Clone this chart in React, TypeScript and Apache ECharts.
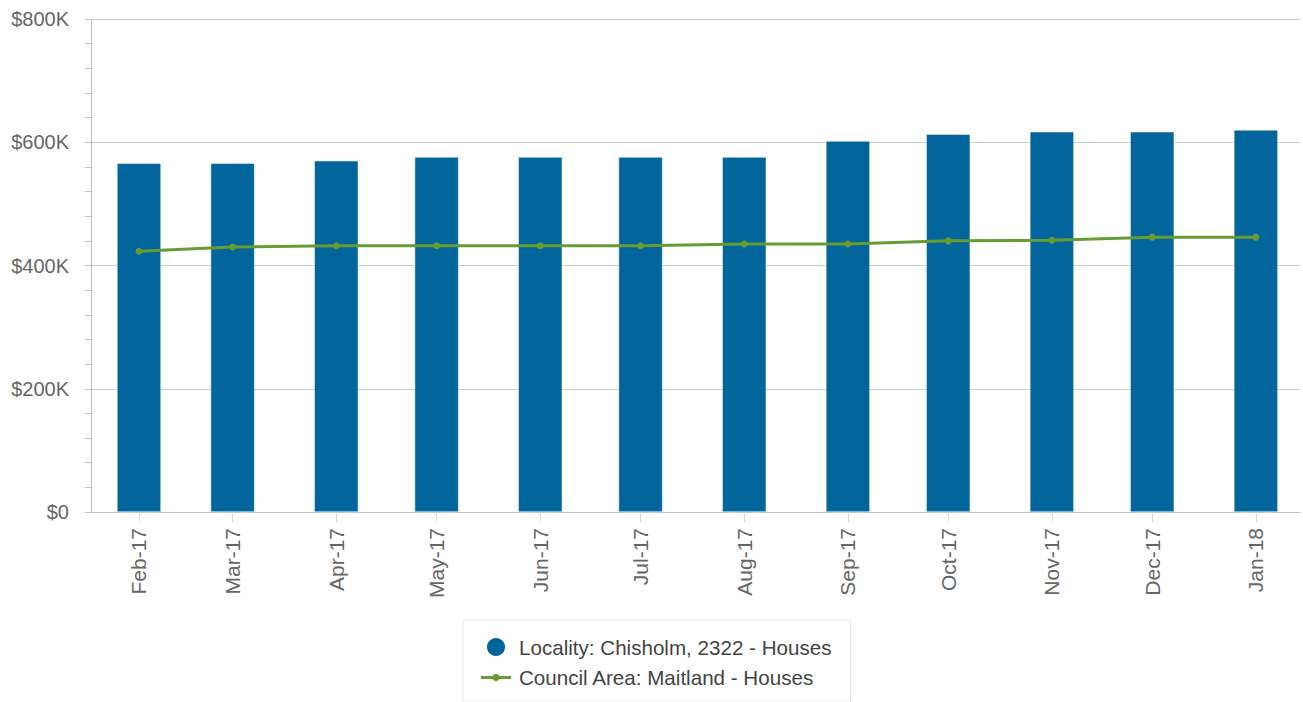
import React, { useEffect, useRef } from "react";
import * as echarts from "echarts";

const months = [
  "2017-02", "2017-03", "2017-04", "2017-05", "2017-06", "2017-07",
  "2017-08", "2017-09", "2017-10", "2017-11", "2017-12", "2018-01",
];
const localityValues = [566000, 566000, 570000, 576000, 576000, 576000, 576000, 602000, 613000, 617000, 617000, 620000];
const councilValues = [423000, 430000, 432000, 432000, 432000, 432000, 435000, 435000, 440000, 441000, 446000, 446000];
const yTicks = [0, 200000, 400000, 600000, 800000];
const monthNames = ["Jan", "Feb", "Mar", "Apr", "May", "Jun", "Jul", "Aug", "Sep", "Oct", "Nov", "Dec"];

const toTs = (m: string) => {
  const [y, mo] = m.split("-").map(Number);
  return Date.UTC(y, mo - 1, 1);
};
const DAY = 86400000;

const lineIcon =
  "path://M0,0 L0.01,0 L0.01,0.01 Z M0,20 L0.01,20 L0.01,19.99 Z M0,8.5 L30,8.5 L30,11.5 L0,11.5 Z M11.5,10 A3.5,3.5 0 1 1 18.5,10 A3.5,3.5 0 1 1 11.5,10 Z";

export default function App() {
  const ref = useRef<HTMLDivElement>(null);
  useEffect(() => {
    if (!ref.current) return;
    const chart = echarts.init(ref.current, null, { renderer: "svg" });
    const ts = months.map(toTs);
    const font = "'Liberation Sans', Arial, sans-serif";
    chart.setOption({
      animation: false,
      textStyle: { fontFamily: font },
      grid: { left: 91, right: 3, top: 19, bottom: 190, containLabel: false },
      xAxis: {
        type: "value",
        min: ts[0] - 14.35 * DAY,
        max: ts[ts.length - 1] + 13.2 * DAY,
        splitLine: { show: false },
        axisLine: { show: true, lineStyle: { color: "#c0c0c0", width: 1 } },
        axisTick: { show: true, length: 10, lineStyle: { color: "#ccd6eb" }, customValues: ts },
        axisLabel: {
          customValues: ts,
          rotate: 90,
          margin: 16,
          color: "#666666",
          fontSize: 21,
          fontFamily: font,
          formatter: (v: number) => {
            const d = new Date(v);
            return monthNames[d.getUTCMonth()] + "-" + String(d.getUTCFullYear()).slice(2);
          },
        },
      },
      yAxis: {
        type: "value",
        min: yTicks[0],
        max: yTicks[yTicks.length - 1],
        interval: 200000,
        axisLine: { show: true, lineStyle: { color: "#c0c0c0", width: 1 } },
        axisTick: { show: true, length: 6, lineStyle: { color: "#c0c0c0" } },
        minorTick: { show: true, splitNumber: 5, length: 6, lineStyle: { color: "#c0c0c0" } },
        splitLine: { show: true, lineStyle: { color: "#cccccc", width: 1 } },
        axisLabel: {
          margin: 22,
          color: "#666666",
          fontSize: 20,
          fontFamily: font,
          formatter: (v: number) => "$" + (v === 0 ? "0" : v / 1000 + "K"),
        },
      },
      legend: {
        orient: "vertical",
        left: 463,
        top: 620,
        padding: [16, 19, 14, 18],
        itemGap: 9,
        itemWidth: 30,
        itemHeight: 20,
        borderColor: "#e8e8e8",
        borderWidth: 1,
        backgroundColor: "#ffffff",
        textStyle: { fontSize: 20.6, color: "#444444", fontFamily: font, lineHeight: 20, padding: [0, 0, 0, 3] },
        data: [
          { name: "Locality: Chisholm, 2322 - Houses", icon: "circle" },
          { name: "Council Area: Maitland - Houses", icon: lineIcon },
        ],
      },
      series: [
        {
          name: "Locality: Chisholm, 2322 - Houses",
          type: "bar",
          barWidth: 44,
          itemStyle: { color: "#02659b", borderColor: "#ffffff", borderWidth: 0.5 },
          data: ts.map((t, i) => [t, localityValues[i]]),
        },
        {
          name: "Council Area: Maitland - Houses",
          type: "line",
          symbol: "circle",
          symbolSize: 7,
          lineStyle: { color: "#679b34", width: 3 },
          itemStyle: { color: "#679b34" },
          data: ts.map((t, i) => [t, councilValues[i]]),
          z: 5,
        },
      ],
    });
    return () => chart.dispose();
  }, []);
  return (
    <div
      ref={ref}
      style={{ position: "fixed", left: 0, top: 0, width: 1303, height: 702, background: "#ffffff" }}
    />
  );
}
